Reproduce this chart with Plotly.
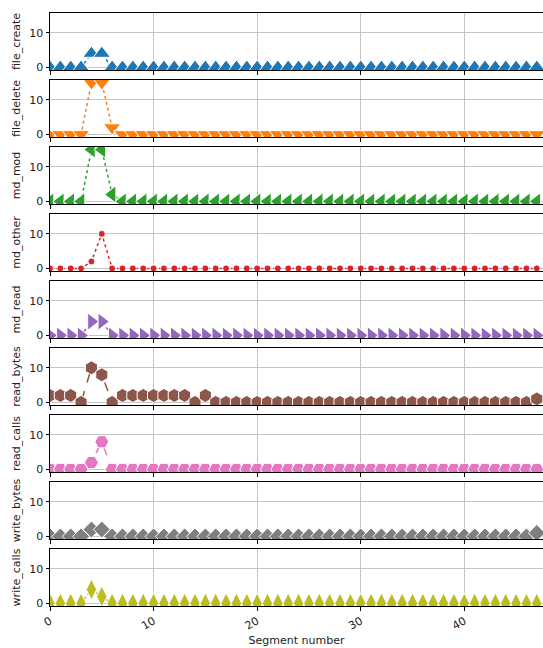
import plotly.graph_objects as go
from plotly.subplots import make_subplots

# Segment index shared by every metric
segments = list(range(48))

metric_names = ["file_create", "file_delete", "md_mod", "md_other", "md_read",
                "read_bytes", "read_calls", "write_bytes", "write_calls"]

file_create = [0, 0, 0, 0, 4, 4, 0, 0, 0, 0, 0, 0, 0, 0, 0, 0,
               0, 0, 0, 0, 0, 0, 0, 0, 0, 0, 0, 0, 0, 0, 0, 0,
               0, 0, 0, 0, 0, 0, 0, 0, 0, 0, 0, 0, 0, 0, 0, 0]
file_delete = [0, 0, 0, 0, 15, 15, 2, 0, 0, 0, 0, 0, 0, 0, 0, 0,
               0, 0, 0, 0, 0, 0, 0, 0, 0, 0, 0, 0, 0, 0, 0, 0,
               0, 0, 0, 0, 0, 0, 0, 0, 0, 0, 0, 0, 0, 0, 0, 0]
md_mod = [0, 0, 0, 0, 15, 15, 2, 0, 0, 0, 0, 0, 0, 0, 0, 0,
          0, 0, 0, 0, 0, 0, 0, 0, 0, 0, 0, 0, 0, 0, 0, 0,
          0, 0, 0, 0, 0, 0, 0, 0, 0, 0, 0, 0, 0, 0, 0, 0]
md_other = [0, 0, 0, 0, 2, 10, 0, 0, 0, 0, 0, 0, 0, 0, 0, 0,
            0, 0, 0, 0, 0, 0, 0, 0, 0, 0, 0, 0, 0, 0, 0, 0,
            0, 0, 0, 0, 0, 0, 0, 0, 0, 0, 0, 0, 0, 0, 0, 0]
md_read = [0, 0, 0, 0, 4, 4, 0, 0, 0, 0, 0, 0, 0, 0, 0, 0,
           0, 0, 0, 0, 0, 0, 0, 0, 0, 0, 0, 0, 0, 0, 0, 0,
           0, 0, 0, 0, 0, 0, 0, 0, 0, 0, 0, 0, 0, 0, 0, 0]
read_bytes = [2, 2, 2, 0, 10, 8, 0, 2, 2, 2, 2, 2, 2, 2, 0, 2,
              0, 0, 0, 0, 0, 0, 0, 0, 0, 0, 0, 0, 0, 0, 0, 0,
              0, 0, 0, 0, 0, 0, 0, 0, 0, 0, 0, 0, 0, 0, 0, 1]
read_calls = [0, 0, 0, 0, 2, 8, 0, 0, 0, 0, 0, 0, 0, 0, 0, 0,
              0, 0, 0, 0, 0, 0, 0, 0, 0, 0, 0, 0, 0, 0, 0, 0,
              0, 0, 0, 0, 0, 0, 0, 0, 0, 0, 0, 0, 0, 0, 0, 0]
write_bytes = [0, 0, 0, 0, 2, 2, 0, 0, 0, 0, 0, 0, 0, 0, 0, 0,
               0, 0, 0, 0, 0, 0, 0, 0, 0, 0, 0, 0, 0, 0, 0, 0,
               0, 0, 0, 0, 0, 0, 0, 0, 0, 0, 0, 0, 0, 0, 0, 1]
write_calls = [0, 0, 0, 0, 4, 2, 0, 0, 0, 0, 0, 0, 0, 0, 0, 0,
               0, 0, 0, 0, 0, 0, 0, 0, 0, 0, 0, 0, 0, 0, 0, 0,
               0, 0, 0, 0, 0, 0, 0, 0, 0, 0, 0, 0, 0, 0, 0, 0]

metric_values = [file_create, file_delete, md_mod, md_other, md_read,
                 read_bytes, read_calls, write_bytes, write_calls]

x_ticks = [0, 10, 20, 30, 40]
y_ticks = [0, 10]

# Per-metric styling
colors = ["#1f77b4", "#ff7f0e", "#2ca02c", "#d62728", "#9467bd",
          "#8c564b", "#e377c2", "#7f7f7f", "#bcbd22"]
symbols = ["triangle-up", "triangle-down", "triangle-left", "circle", "triangle-right",
           "hexagon", "hexagon2", "diamond", "diamond-tall"]
sizes = [15, 15, 15, 7, 15, 14, 14, 13, 15]
dashes = ["dot", "dot", "dot", "dot", "dot", "dash", "dash", "dashdot", "dot"]

FONT = "DejaVu Sans"
n = len(metric_names)
fig = make_subplots(rows=n, cols=1, shared_xaxes=True, vertical_spacing=10 / 593)

for i, (name, vals) in enumerate(zip(metric_names, metric_values)):
    fig.add_trace(
        go.Scatter(
            x=segments, y=vals, mode="lines+markers", name=name,
            line=dict(color=colors[i], width=1.5, dash=dashes[i]),
            marker=dict(symbol=symbols[i], size=sizes[i], color=colors[i],
                        line=dict(color="white", width=1)),
            cliponaxis=True, showlegend=False,
        ),
        row=i + 1, col=1,
    )
    fig.update_yaxes(
        range=[-0.75, 15.75], tickvals=y_ticks,
        showgrid=True, gridcolor="#c4c4c4", gridwidth=1, zeroline=False,
        showline=True, mirror=True, linecolor="black", linewidth=1,
        ticks="outside", ticklen=3.5, tickcolor="black",
        tickfont=dict(family=FONT, size=11, color="#222"),
        title=dict(text=name, font=dict(family=FONT, size=11, color="#222"), standoff=6),
        row=i + 1, col=1,
    )
    fig.update_xaxes(
        range=[0, 47.6], tickvals=x_ticks,
        showgrid=True, gridcolor="#c4c4c4", gridwidth=1, zeroline=False,
        showline=True, mirror=True, linecolor="black", linewidth=1,
        ticks="outside", ticklen=3.5, tickcolor="black",
        tickfont=dict(family=FONT, size=11, color="#222"),
        row=i + 1, col=1,
    )

fig.update_xaxes(
    tickangle=-30,
    title=dict(text="Segment number", font=dict(family=FONT, size=11, color="#222"), standoff=4),
    row=n, col=1,
)

fig.update_layout(
    width=543, height=648,
    margin=dict(l=50, r=0, t=13, b=42),
    paper_bgcolor="white", plot_bgcolor="white",
    font=dict(family=FONT, size=11, color="#222"),
)

fig.write_html("out.html")
